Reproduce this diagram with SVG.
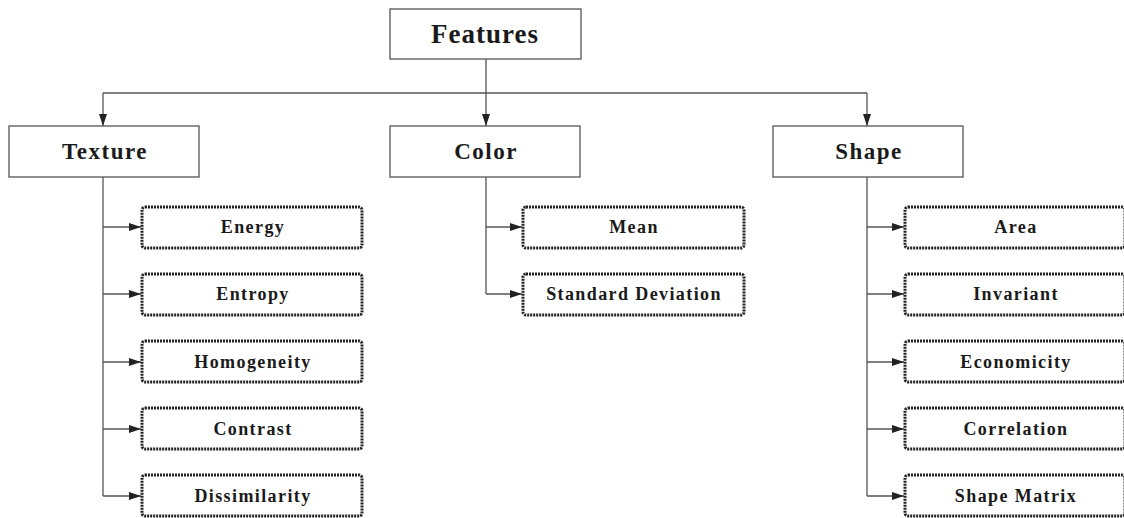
<svg xmlns="http://www.w3.org/2000/svg" width="1124" height="518" viewBox="0 0 1124 518">
<style>
.main{fill:#fff;stroke:#555;stroke-width:1.3}
.sub{fill:#fff;stroke:#222;stroke-width:3;stroke-dasharray:2 1}
.t1{font-family:"Liberation Serif",serif;font-weight:bold;font-size:27px;letter-spacing:1px;fill:#1a1a1a;text-anchor:middle}
.t2{font-family:"Liberation Serif",serif;font-weight:bold;font-size:23px;letter-spacing:1.5px;fill:#1a1a1a;text-anchor:middle}
.t3{font-family:"Liberation Serif",serif;font-weight:bold;font-size:18px;letter-spacing:1.4px;fill:#1a1a1a;text-anchor:middle}
.ln{fill:none;stroke:#555;stroke-width:1.3}
</style>
<defs>
<marker id="ah" markerWidth="12" markerHeight="8" refX="12" refY="4" orient="auto" markerUnits="userSpaceOnUse">
<path d="M0,0 L12,4 L0,8 Z" fill="#222"/>
</marker>
</defs>
<g id="connectors">
<path class="ln" d="M486,59 V93"/>
<path class="ln" d="M103,93 H867"/>
<path class="ln" d="M103,93 V126" marker-end="url(#ah)"/>
<path class="ln" d="M486,93 V126" marker-end="url(#ah)"/>
<path class="ln" d="M867,93 V126" marker-end="url(#ah)"/>
<path class="ln" d="M103,177 V496"/>
<path class="ln" d="M103,227 H141" marker-end="url(#ah)"/>
<path class="ln" d="M103,294 H141" marker-end="url(#ah)"/>
<path class="ln" d="M103,362 H141" marker-end="url(#ah)"/>
<path class="ln" d="M103,429 H141" marker-end="url(#ah)"/>
<path class="ln" d="M103,496 H141" marker-end="url(#ah)"/>
<path class="ln" d="M486,177 V294"/>
<path class="ln" d="M486,227 H522" marker-end="url(#ah)"/>
<path class="ln" d="M486,294 H522" marker-end="url(#ah)"/>
<path class="ln" d="M867,177 V496"/>
<path class="ln" d="M867,227 H904" marker-end="url(#ah)"/>
<path class="ln" d="M867,294 H904" marker-end="url(#ah)"/>
<path class="ln" d="M867,362 H904" marker-end="url(#ah)"/>
<path class="ln" d="M867,429 H904" marker-end="url(#ah)"/>
<path class="ln" d="M867,496 H904" marker-end="url(#ah)"/>
</g>
<g id="features"><rect class="main" x="390" y="9" width="191" height="50"/><text class="t1" x="485" y="43">Features</text></g>
<g id="texture"><rect class="main" x="9" y="126" width="190" height="51"/><text class="t2" x="105" y="159">Texture</text></g>
<g id="color"><rect class="main" x="390" y="126" width="190" height="51"/><text class="t2" x="486" y="159">Color</text></g>
<g id="shape"><rect class="main" x="773" y="126" width="190" height="51"/><text class="t2" x="869" y="159">Shape</text></g>
<g id="energy"><rect class="sub" x="142" y="207" width="220" height="41" rx="3"/><text class="t3" x="253" y="233">Energy</text></g>
<g id="entropy"><rect class="sub" x="142" y="274" width="220" height="41" rx="3"/><text class="t3" x="253" y="300">Entropy</text></g>
<g id="homogeneity"><rect class="sub" x="142" y="341" width="220" height="41" rx="3"/><text class="t3" x="253" y="368">Homogeneity</text></g>
<g id="contrast"><rect class="sub" x="142" y="408" width="220" height="41" rx="3"/><text class="t3" x="253" y="435">Contrast</text></g>
<g id="dissimilarity"><rect class="sub" x="142" y="475" width="220" height="41" rx="3"/><text class="t3" x="253" y="502">Dissimilarity</text></g>
<g id="mean"><rect class="sub" x="523" y="207" width="221" height="41" rx="3"/><text class="t3" x="634" y="233">Mean</text></g>
<g id="stddev"><rect class="sub" x="523" y="274" width="221" height="41" rx="3"/><text class="t3" x="634" y="300">Standard Deviation</text></g>
<g id="area"><rect class="sub" x="905" y="207" width="220" height="41" rx="3"/><text class="t3" x="1016" y="233">Area</text></g>
<g id="invariant"><rect class="sub" x="905" y="274" width="220" height="41" rx="3"/><text class="t3" x="1016" y="300">Invariant</text></g>
<g id="economicity"><rect class="sub" x="905" y="341" width="220" height="41" rx="3"/><text class="t3" x="1016" y="368">Economicity</text></g>
<g id="correlation"><rect class="sub" x="905" y="408" width="220" height="41" rx="3"/><text class="t3" x="1016" y="435">Correlation</text></g>
<g id="shapematrix"><rect class="sub" x="905" y="475" width="220" height="41" rx="3"/><text class="t3" x="1016" y="502">Shape Matrix</text></g>
</svg>
